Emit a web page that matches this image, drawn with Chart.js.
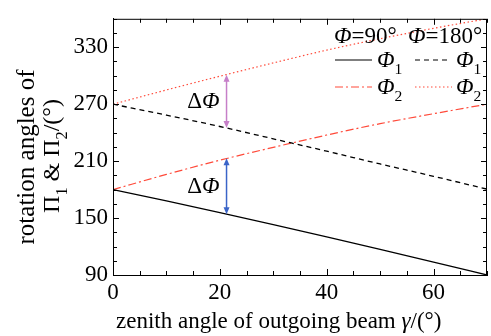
<!DOCTYPE html>
<html>
<head>
<meta charset="utf-8">
<script src="https://cdn.jsdelivr.net/npm/chart.js@4.4.1/dist/chart.umd.min.js"></script>
<style>
  html, body { margin: 0; padding: 0; background: #fff; }
  #wrap { width: 491px; height: 336px; position: relative; }
</style>
</head>
<body>
<div id="wrap"><canvas id="chart"></canvas></div>
<script>
// zenith angle gamma (deg) and rotation angles (deg)
const gammaDeg = [0, 10, 20, 30, 40, 50, 60, 70];
const phi1At90 = [180, 168, 155.8, 143.2, 130.2, 117, 103.6, 90];
const phi2At90 = [180, 196, 211, 224.5, 237.5, 249.5, 260, 270];
const phi1At180 = [270, 258.5, 246.5, 233.5, 220.5, 207, 194, 180.5];
const phi2At180 = [270, 285, 299.5, 313.5, 327, 339, 350, 360];

const xTickLabels = [0, 20, 40, 60];
const yTickLabels = [90, 150, 210, 270, 330];

// delta-phi arrows: gamma, lower end, upper end
const arrowGamma = [21.25, 21.25];
const arrowLow = [245, 154];
const arrowHigh = [301, 213];

const SERIF = '"Liberation Serif", "Times New Roman", serif';
const RED = '#ff4a3a';
const FS = 23;

const pts = (ys) => gammaDeg.map((g, i) => ({ x: g, y: ys[i] }));

function richText(ctx, parts, x, y, size) {
  let cx = x;
  for (const p of parts) {
    const s = p.sub ? size * 0.68 : size;
    ctx.font = (p.it ? 'italic ' : '') + s + 'px ' + SERIF;
    ctx.fillText(p.t, cx, y + (p.sub ? size * 0.32 : 0));
    cx += ctx.measureText(p.t).width + (p.gap || 0);
  }
  return cx;
}

function richWidth(ctx, parts, size) {
  let w = 0;
  for (const p of parts) {
    const s = p.sub ? size * 0.68 : size;
    ctx.font = (p.it ? 'italic ' : '') + s + 'px ' + SERIF;
    w += ctx.measureText(p.t).width + (p.gap || 0);
  }
  return w;
}

function sample(ctx, x1, x2, y, color, dash) {
  ctx.save();
  ctx.strokeStyle = color;
  ctx.lineWidth = 1.2;
  ctx.setLineDash(dash);
  ctx.beginPath();
  ctx.moveTo(x1, y);
  ctx.lineTo(x2, y);
  ctx.stroke();
  ctx.restore();
}

function arrow(ctx, x, yTop, yBot, color) {
  ctx.save();
  ctx.strokeStyle = color;
  ctx.fillStyle = color;
  ctx.lineWidth = 1.5;
  ctx.beginPath();
  ctx.moveTo(x, yTop + 4);
  ctx.lineTo(x, yBot - 4);
  ctx.stroke();
  ctx.beginPath();
  ctx.moveTo(x, yTop);
  ctx.lineTo(x - 3, yTop + 7);
  ctx.lineTo(x + 3, yTop + 7);
  ctx.closePath();
  ctx.fill();
  ctx.beginPath();
  ctx.moveTo(x, yBot);
  ctx.lineTo(x - 3, yBot - 7);
  ctx.lineTo(x + 3, yBot - 7);
  ctx.closePath();
  ctx.fill();
  ctx.restore();
}

const decorations = {
  id: 'decorations',
  afterDatasetsDraw(chart) {
    const { ctx, chartArea: a, scales } = chart;
    const xs = scales.x, ys = scales.y;
    ctx.save();

    // frame
    ctx.strokeStyle = '#000';
    ctx.lineWidth = 1;
    ctx.strokeRect(a.left + 0.5, a.top + 0.5, a.right - a.left - 1, a.bottom - a.top);

    // inward ticks on all sides
    ctx.beginPath();
    xs.ticks.forEach(t => {
      const px = Math.round(xs.getPixelForValue(t.value)) + 0.5;
      const len = xTickLabels.includes(t.value) ? 6 : 4;
      ctx.moveTo(px, a.bottom); ctx.lineTo(px, a.bottom - len);
      ctx.moveTo(px, a.top); ctx.lineTo(px, a.top + len);
    });
    ys.ticks.forEach(t => {
      const py = Math.round(ys.getPixelForValue(t.value)) + 0.5;
      const len = yTickLabels.includes(t.value) ? 6 : 4;
      ctx.moveTo(a.left, py); ctx.lineTo(a.left + len, py);
      ctx.moveTo(a.right, py); ctx.lineTo(a.right - len, py);
    });
    ctx.stroke();

    // delta-phi arrows and labels
    const arrowColors = ['#c67fc8', '#3a64c8'];
    ctx.textBaseline = 'middle';
    arrowGamma.forEach((g, i) => {
      const px = xs.getPixelForValue(g);
      const yTop = ys.getPixelForValue(arrowHigh[i]);
      const yBot = ys.getPixelForValue(arrowLow[i]);
      arrow(ctx, px, yTop, yBot, arrowColors[i]);
      const parts = [{ t: '\u0394' }, { t: '\u03A6', it: true }];
      const w = richWidth(ctx, parts, FS);
      ctx.fillStyle = '#000';
      richText(ctx, parts, px - 7 - w, (yTop + yBot) / 2 + 1, FS);
    });

    // legend
    ctx.textBaseline = 'alphabetic';
    ctx.fillStyle = '#000';
    richText(ctx, [{ t: '\u03A6', it: true }, { t: '=90\u00B0' }], 334, 43, FS);
    richText(ctx, [{ t: '\u03A6', it: true }, { t: '=180\u00B0' }], 408, 43, FS);
    sample(ctx, 335, 372, 60, '#000', []);
    richText(ctx, [{ t: '\u03A6', it: true }, { t: '1', sub: true }], 377, 67, FS);
    sample(ctx, 415, 450, 60, '#000', [5, 4]);
    richText(ctx, [{ t: '\u03A6', it: true }, { t: '1', sub: true }], 456, 67, FS);
    sample(ctx, 335, 372, 87, RED, [8, 3, 2, 3]);
    richText(ctx, [{ t: '\u03A6', it: true }, { t: '2', sub: true }], 377, 94, FS);
    sample(ctx, 415, 452, 87, RED, [1.5, 2.5]);
    richText(ctx, [{ t: '\u03A6', it: true }, { t: '2', sub: true }], 456, 94, FS);

    // x axis title
    richText(ctx, [{ t: 'zenith angle of outgoing beam ' }, { t: '\u03B3', it: true }, { t: '/(\u00B0)' }], 116, 328, FS);

    // y axis title, two rotated lines
    ctx.save();
    ctx.translate(34, 157);
    ctx.rotate(-Math.PI / 2);
    ctx.textAlign = 'center';
    ctx.font = '25px ' + SERIF;
    ctx.fillText('rotation angles of', 0, 0);
    ctx.restore();

    ctx.save();
    ctx.translate(59, 156);
    ctx.rotate(-Math.PI / 2);
    const yParts = [{ t: '\u03A0' }, { t: '1', sub: true }, { t: ' & \u03A0' }, { t: '2', sub: true }, { t: '/(\u00B0)' }];
    const yw = richWidth(ctx, yParts, 24);
    richText(ctx, yParts, -yw / 2, 0, 24);
    ctx.restore();

    ctx.restore();
  }
};

const lineSet = (label, ys, color, dash, width) => ({
  label,
  data: pts(ys),
  borderColor: color,
  borderWidth: width,
  borderDash: dash,
  pointRadius: 0,
  fill: false,
  cubicInterpolationMode: 'monotone'
});

new Chart(document.getElementById('chart'), {
  type: 'line',
  data: {
    datasets: [
      lineSet('\u03A61 (\u03A6=90\u00B0)', phi1At90, '#000', [], 1.3),
      lineSet('\u03A61 (\u03A6=180\u00B0)', phi1At180, '#000', [5, 4], 1.3),
      lineSet('\u03A62 (\u03A6=90\u00B0)', phi2At90, RED, [8, 3, 2, 3], 1.2),
      lineSet('\u03A62 (\u03A6=180\u00B0)', phi2At180, RED, [1.5, 2.5], 1.2)
    ]
  },
  options: {
    responsive: true,
    maintainAspectRatio: false,
    animation: false,
    devicePixelRatio: 1,
    layout: { padding: { top: 11, right: 3, left: 0, bottom: 0 } },
    plugins: { legend: { display: false }, tooltip: { enabled: false } },
    scales: {
      x: {
        type: 'linear',
        min: 0,
        max: 70,
        grid: { drawOnChartArea: false, drawTicks: false },
        border: { color: '#000', width: 1 },
        ticks: {
          stepSize: 5,
          autoSkip: false,
          maxRotation: 0,
          padding: 4,
          color: '#000',
          font: { family: SERIF, size: FS },
          callback: v => xTickLabels.includes(v) ? String(v) : ''
        },
        afterFit(s) { s.height = 61; }
      },
      y: {
        type: 'linear',
        min: 90,
        max: 360,
        grid: { drawOnChartArea: false, drawTicks: false },
        border: { color: '#000', width: 1 },
        ticks: {
          stepSize: 15,
          autoSkip: false,
          padding: 5,
          color: '#000',
          font: { family: SERIF, size: FS },
          callback: v => yTickLabels.includes(v) ? String(v) : ''
        },
        afterFit(s) { s.width = 113; }
      }
    }
  },
  plugins: [decorations]
});
</script>
</body>
</html>
